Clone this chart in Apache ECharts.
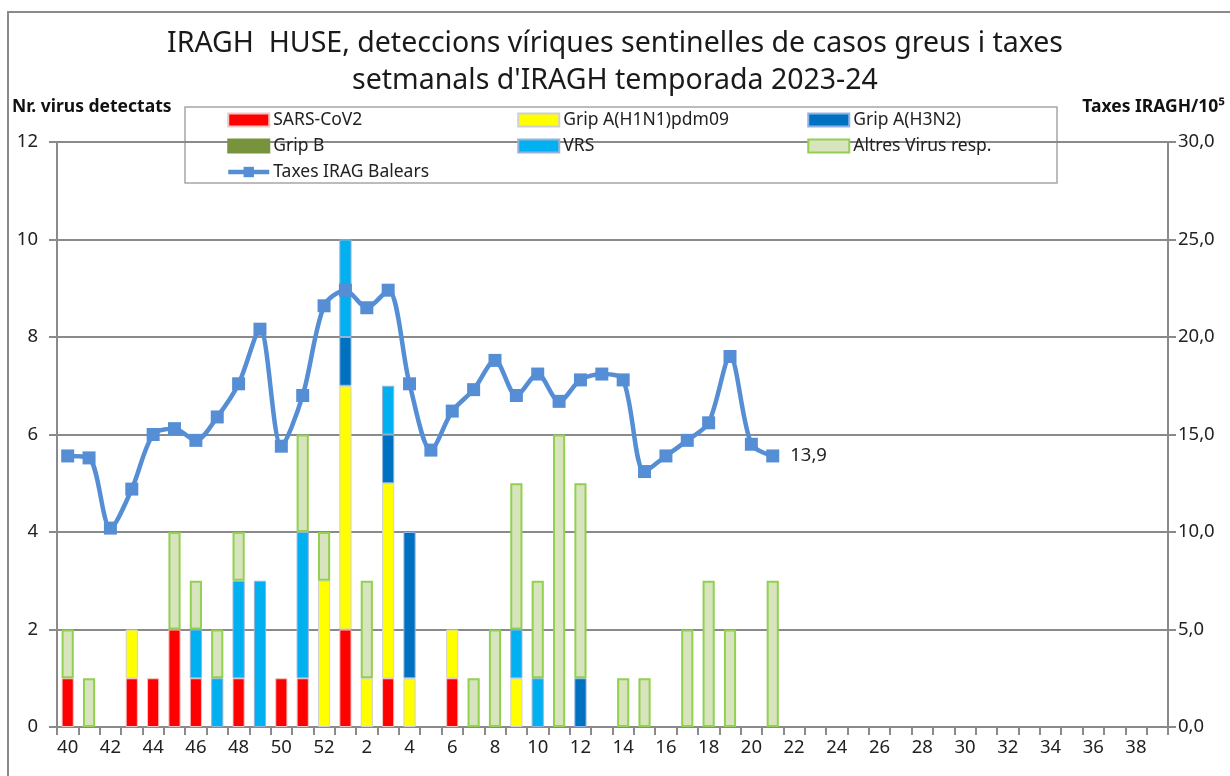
<!DOCTYPE html>
<html>
<head>
<meta charset="utf-8">
<script src="https://cdn.jsdelivr.net/npm/echarts@6/dist/echarts.min.js"></script>
<style>
  html, body { margin: 0; padding: 0; background: #fff; }
  #chart { width: 1230px; height: 776px; }
</style>
</head>
<body>
<div id="chart"></div>
<script>
// setmanes epidemiològiques 40..52 i 1..39
const weeks = ['40','41','42','43','44','45','46','47','48','49','50','51','52',
  '1','2','3','4','5','6','7','8','9','10','11','12','13','14','15','16','17','18','19',
  '20','21','22','23','24','25','26','27','28','29','30','31','32','33','34','35','36','37','38','39'];

// nombre de virus detectats per setmana (fins setmana 21)
const sarsCov2   = [1,0,0,1,1,2,1,0,1,0,1,1,0, 2,0,1,0,0,1,0,0,0,0,0,0,0,0,0,0,0,0,0,0,0];
const gripH1N1   = [0,0,0,1,0,0,0,0,0,0,0,0,3, 5,1,4,1,0,1,0,0,1,0,0,0,0,0,0,0,0,0,0,0,0];
const gripH3N2   = [0,0,0,0,0,0,0,0,0,0,0,0,0, 1,0,1,3,0,0,0,0,0,0,0,1,0,0,0,0,0,0,0,0,0];
const gripB      = [0,0,0,0,0,0,0,0,0,0,0,0,0, 0,0,0,0,0,0,0,0,0,0,0,0,0,0,0,0,0,0,0,0,0];
const vrs        = [0,0,0,0,0,0,1,1,2,3,0,3,0, 2,0,1,0,0,0,0,0,1,1,0,0,0,0,0,0,0,0,0,0,0];
const altresVirus= [1,1,0,0,0,2,1,1,1,0,0,2,1, 0,2,0,0,0,0,1,2,3,2,6,4,0,1,1,0,2,3,2,0,3];

// taxes IRAG Balears per 100.000 hab.
const taxesIRAG  = [13.9,13.8,10.2,12.2,15.0,15.3,14.7,15.9,17.6,20.4,14.4,17.0,21.6,
  22.4,21.5,22.4,17.6,14.2,16.2,17.3,18.8,17.0,18.1,16.7,17.8,18.1,17.8,13.1,13.9,14.7,15.6,19.0,14.5,13.9];

const FONT = 'Noto Sans';
const chart = echarts.init(document.getElementById('chart'));

const nz = arr => arr.map(v => (v === 0 ? '-' : v));

function barSeries(name, data, color, border, bw) {
  return {
    name: name,
    type: 'bar',
    stack: 'virus',
    barWidth: '57%',
    data: nz(data),
    itemStyle: { color: color, borderColor: border, borderWidth: bw }
  };
}

const barNames = ['SARS-CoV2', 'Grip A(H1N1)pdm09', 'Grip A(H3N2)', 'Grip B', 'VRS', 'Altres Virus resp.'];
const lastIdx = taxesIRAG.length - 1;

chart.setOption({
  animation: false,
  textStyle: { fontFamily: FONT },
  title: {
    text: "IRAGH  HUSE, deteccions víriques sentinelles de casos greus i taxes\nsetmanals d'IRAGH temporada 2023-24",
    left: 'center',
    top: 20,
    textStyle: { fontFamily: FONT, fontSize: 28.5, fontWeight: 'normal', color: '#1a1a1a', lineHeight: 37 }
  },
  graphic: [
    { type: 'rect', shape: { x: 8, y: 12, width: 1240, height: 800 },
      style: { fill: 'none', stroke: '#8a8a8a', lineWidth: 2 }, silent: true },
    { type: 'rect', shape: { x: 185, y: 107, width: 872, height: 76 },
      style: { fill: '#fff', stroke: '#a6a6a6', lineWidth: 1.5 }, z: 0, silent: true },
    { type: 'text', left: 12, top: 98,
      style: { text: 'Nr. virus detectats', font: 'bold 17.5px "Noto Sans"', fill: '#111' } },
    { type: 'text', right: 5, top: 98,
      style: { text: 'Taxes IRAGH/10⁵', font: 'bold 17.5px "Noto Sans"', fill: '#111' } }
  ],
  legend: {
    left: 226,
    top: 107,
    width: 880,
    itemWidth: 41,
    itemHeight: 13,
    itemGap: 0,
    padding: 0,
    textStyle: { fontFamily: FONT, fontSize: 17.5, color: '#222', width: 244, lineHeight: 26, padding: [0, 0, 0, -1] },
    data: barNames.map(n => ({ name: n, icon: 'rect' }))
      .concat([{ name: 'Taxes IRAG Balears', lineStyle: { width: 4.5 } }])
  },
  grid: { left: 57, right: 62, top: 142, bottom: 49 },
  xAxis: {
    type: 'category',
    data: weeks,
    boundaryGap: true,
    axisLine: { lineStyle: { color: '#8a8a8a', width: 2 } },
    axisTick: { show: true, length: 8, interval: 0, lineStyle: { color: '#8a8a8a', width: 2 } },
    axisLabel: { interval: 1, margin: 11, fontSize: 18.5, color: '#222', fontFamily: FONT }
  },
  yAxis: [
    {
      type: 'value', min: 0, max: 12, interval: 2,
      axisLine: { show: true, lineStyle: { color: '#8a8a8a', width: 2 } },
      axisTick: { show: true, length: 8, lineStyle: { color: '#8a8a8a', width: 2 } },
      axisLabel: { margin: 19, fontSize: 18.5, color: '#222', fontFamily: FONT },
      splitLine: { lineStyle: { color: '#8a8a8a', width: 2 } }
    },
    {
      type: 'value', min: 0, max: 30, interval: 5, position: 'right',
      axisLine: { show: true, lineStyle: { color: '#8a8a8a', width: 2 } },
      axisTick: { show: true, length: 8, lineStyle: { color: '#8a8a8a', width: 2 } },
      axisLabel: { margin: 10, fontSize: 18.5, color: '#222', fontFamily: FONT,
        formatter: v => v.toFixed(1).replace('.', ',') },
      splitLine: { show: false }
    }
  ],
  series: [
    barSeries('SARS-CoV2', sarsCov2, '#ff0000', '#f2c4c4', 1),
    barSeries('Grip A(H1N1)pdm09', gripH1N1, '#ffff00', '#d0d0d0', 1),
    barSeries('Grip A(H3N2)', gripH3N2, '#0070c0', '#8db4e2', 1),
    barSeries('Grip B', gripB, '#77933c', '#77933c', 1),
    barSeries('VRS', vrs, '#00b0f0', '#95b3d7', 1),
    barSeries('Altres Virus resp.', altresVirus, '#d7e4bd', '#92d050', 2),
    {
      name: 'Taxes IRAG Balears',
      type: 'line',
      yAxisIndex: 1,
      smooth: 0.3,
      symbol: 'rect',
      symbolSize: 13,
      z: 5,
      lineStyle: { color: '#558ed5', width: 4.5 },
      itemStyle: { color: '#558ed5' },
      label: { fontSize: 18.5, color: '#222', fontFamily: FONT, distance: 11 },
      data: taxesIRAG.map((v, i) => i === lastIdx
        ? { value: v, label: { show: true, position: 'right', formatter: p => p.value.toFixed(1).replace('.', ',') } }
        : v)
    }
  ]
});
</script>
</body>
</html>
